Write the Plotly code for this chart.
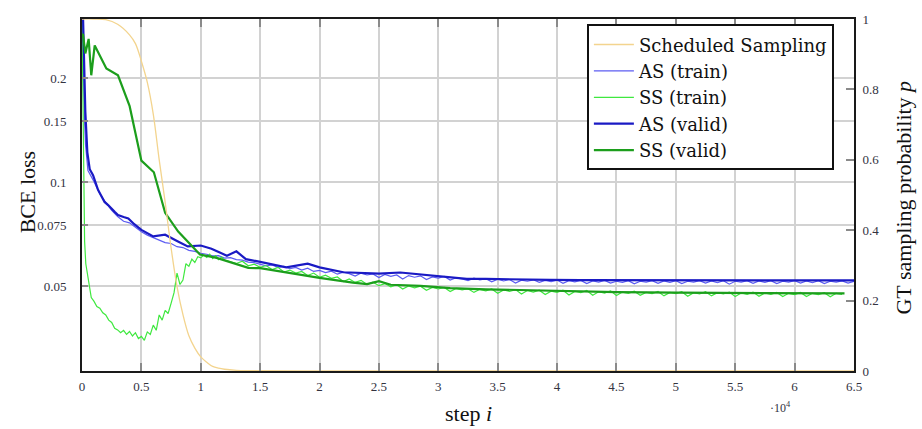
import plotly.graph_objects as go

# ---------------- data ----------------
ss_steps = [0, 1000, 2000, 3000, 4000, 4500, 5000, 5500, 6000, 6500, 7000, 7500, 8000,
            8500, 9000, 9500, 10000, 10500, 11000, 11500, 12000, 13000, 14000, 20000,
            30000, 40000, 50000, 60000, 65000]
ss_prob = [1.0, 1.0, 0.998, 0.985, 0.955, 0.93, 0.88, 0.82, 0.73, 0.60, 0.48, 0.35, 0.24,
           0.16, 0.10, 0.065, 0.04, 0.025, 0.013, 0.008, 0.005, 0.002, 0.001, 0.0,
           0.0, 0.0, 0.0, 0.0, 0.0]

as_valid_steps = [0, 150, 280, 450, 650, 930, 1350, 1900, 2200, 2750, 3030, 3500, 3900,
                  4400, 5000, 6000, 7000, 8000, 8900, 10000, 10900, 11600, 12200, 13000,
                  13800, 14700, 16000, 17200, 19000, 20000, 22000, 23500, 25000, 26800,
                  28700, 30500, 32400, 34000, 36000, 39400, 42000, 45000, 48000, 52000,
                  56000, 60000, 65000]
as_valid_loss = [0.40, 0.25, 0.16, 0.122, 0.109, 0.1047, 0.0950, 0.0876, 0.0858, 0.0820,
                 0.0803, 0.0792, 0.0785, 0.0755, 0.0727, 0.0696, 0.0704, 0.0675, 0.0651,
                 0.0655, 0.0641, 0.0625, 0.0612, 0.0630, 0.0598, 0.0590, 0.0577, 0.0566,
                 0.0580, 0.0566, 0.0548, 0.0546, 0.0543, 0.0547, 0.0540, 0.0533, 0.0524,
                 0.0524, 0.0522, 0.0521, 0.0520, 0.0520, 0.0519, 0.0519, 0.0519, 0.0519,
                 0.0519]

ss_valid_steps = [0, 80, 280, 560, 780, 1070, 2050, 3030, 4010, 5000, 6050, 7000, 8100,
                  9000, 9930, 11340, 12500, 14000, 15000, 17000, 20000, 22800, 24000,
                  25000, 26000, 28500, 31000, 34000, 39400, 45000, 50000, 55000, 60000,
                  64200]
ss_valid_loss = [0.262, 0.269, 0.236, 0.260, 0.204, 0.249, 0.2136, 0.204, 0.166, 0.1154,
                 0.1068, 0.0815, 0.0719, 0.0665, 0.0617, 0.0603, 0.0585, 0.0564, 0.0563,
                 0.0548, 0.0528, 0.0511, 0.0506, 0.0516, 0.0504, 0.0500, 0.0493, 0.0489,
                 0.0484, 0.0480, 0.0478, 0.0477, 0.0476, 0.0476]

as_train_steps = [0, 100, 200, 300, 400] + list(range(500, 65001, 500))
as_train_loss = [
    0.33, 0.22, 0.155, 0.128, 0.115,
    0.108, 0.1005, 0.0925, 0.0872, 0.0828, 0.0795, 0.0770, 0.0762, 0.0738, 0.0718,
    0.0702, 0.0690, 0.0680, 0.0668, 0.0664, 0.0650, 0.0646, 0.0634, 0.0630, 0.0622,
    0.0618, 0.0611, 0.0612, 0.0602, 0.0604, 0.0596, 0.0594, 0.0586, 0.0584,
    0.0579, 0.0572, 0.0575, 0.0566, 0.0570, 0.0561, 0.0566, 0.0556, 0.0563, 0.0551,
    0.0555, 0.0547, 0.0552, 0.0541, 0.0548, 0.0543, 0.0534, 0.0545, 0.0538, 0.0542,
    0.0529, 0.0540, 0.0533, 0.0538, 0.0524, 0.0536, 0.0530, 0.0535, 0.0522, 0.0531,
    0.0527, 0.0533, 0.0520, 0.0528, 0.0524, 0.0518, 0.0527, 0.0521, 0.0525, 0.0514,
    0.0523, 0.0517, 0.0522, 0.0510, 0.0520, 0.0516, 0.0521, 0.0512, 0.0519, 0.0515,
    0.0520, 0.0509, 0.0518, 0.0514, 0.0519, 0.0508, 0.0517, 0.0513, 0.0519, 0.0510,
    0.0516, 0.0512, 0.0518, 0.0507, 0.0516, 0.0513, 0.0518, 0.0509, 0.0517, 0.0512,
    0.0518, 0.0508, 0.0516, 0.0513, 0.0518, 0.0510, 0.0517, 0.0511, 0.0518, 0.0506,
    0.0516, 0.0513, 0.0518, 0.0509, 0.0517, 0.0512, 0.0518, 0.0508, 0.0516, 0.0513,
    0.0518, 0.0510, 0.0517, 0.0511, 0.0518, 0.0508, 0.0516, 0.0513, 0.0517, 0.0510,
    0.0516]

ss_train_steps = ([0, 60, 120, 220, 320, 450, 600, 780]
                  + list(range(1000, 12001, 250)) + list(range(12500, 64001, 500)))
ss_train_loss = [
    0.30, 0.20, 0.12, 0.0673, 0.058, 0.0541, 0.0500, 0.0463,
    0.0452, 0.0436, 0.0431, 0.0418, 0.0412, 0.0398, 0.0392, 0.0377, 0.0373, 0.0366,
    0.0372, 0.0362, 0.0369, 0.0358, 0.0366, 0.0352, 0.0357, 0.0348, 0.0368, 0.0362,
    0.0385, 0.0372, 0.0412, 0.0398, 0.0425, 0.0416, 0.0445, 0.0478, 0.0545, 0.0505,
    0.0520, 0.0580, 0.0570, 0.0598, 0.0585, 0.0608, 0.0603, 0.0615, 0.0605, 0.0618,
    0.0600, 0.0612, 0.0596, 0.0606, 0.0594,
    0.0588, 0.0581, 0.0590, 0.0572, 0.0578, 0.0566, 0.0573, 0.0558, 0.0566, 0.0549,
    0.0556, 0.0545, 0.0551, 0.0536, 0.0545, 0.0530, 0.0537, 0.0526, 0.0531, 0.0515,
    0.0524, 0.0512, 0.0519, 0.0505, 0.0513, 0.0501, 0.0508, 0.0497, 0.0504, 0.0490,
    0.0500, 0.0494, 0.0499, 0.0486, 0.0495, 0.0490, 0.0495, 0.0482, 0.0492, 0.0487,
    0.0491, 0.0479, 0.0489, 0.0484, 0.0490, 0.0476, 0.0487, 0.0482, 0.0488, 0.0474,
    0.0485, 0.0480, 0.0486, 0.0472, 0.0483, 0.0479, 0.0486, 0.0471, 0.0482, 0.0478,
    0.0485, 0.0470, 0.0481, 0.0477, 0.0484, 0.0469, 0.0480, 0.0476, 0.0483, 0.0470,
    0.0479, 0.0475, 0.0482, 0.0468, 0.0479, 0.0475, 0.0481, 0.0467, 0.0478, 0.0474,
    0.0481, 0.0468, 0.0478, 0.0474, 0.0480, 0.0466, 0.0477, 0.0473, 0.0480, 0.0467,
    0.0477, 0.0473, 0.0479, 0.0466, 0.0476, 0.0472, 0.0479, 0.0466, 0.0476, 0.0472,
    0.0478, 0.0465, 0.0476, 0.0473]

x_tick_vals = list(range(0, 65001, 5000))
x_tick_text = ["0", "0.5", "1", "1.5", "2", "2.5", "3", "3.5", "4", "4.5", "5", "5.5", "6", "6.5"]
y_tick_vals = [0.05, 0.075, 0.1, 0.15, 0.2]
y_tick_text = ["0.05", "0.075", "0.1", "0.15", "0.2"]
y2_tick_vals = [0, 0.2, 0.4, 0.6, 0.8, 1]
y2_tick_text = ["0", "0.2", "0.4", "0.6", "0.8", "1"]

# ---------------- figure ----------------
SERIF = "Liberation Serif"
TICKFONT = dict(family=SERIF, size=13, color="#33333f")

fig = go.Figure()
fig.add_trace(go.Scatter(x=ss_steps, y=ss_prob, name="Scheduled Sampling", mode="lines",
                         line=dict(color="#f3d48e", width=1.3, shape="spline"), yaxis="y2"))
fig.add_trace(go.Scatter(x=as_train_steps, y=as_train_loss, name="AS (train)", mode="lines",
                         line=dict(color="#5c5cf2", width=1.2)))
fig.add_trace(go.Scatter(x=ss_train_steps, y=ss_train_loss, name="SS (train)", mode="lines",
                         line=dict(color="#3fe83f", width=1.2)))
fig.add_trace(go.Scatter(x=as_valid_steps, y=as_valid_loss, name="AS (valid)", mode="lines",
                         line=dict(color="#1a1ac4", width=2.2)))
fig.add_trace(go.Scatter(x=ss_valid_steps, y=ss_valid_loss, name="SS (valid)", mode="lines",
                         line=dict(color="#1c9e1c", width=2.2)))

fig.update_layout(
    width=922, height=429,
    margin=dict(l=82, r=68, t=15, b=58),
    paper_bgcolor="white", plot_bgcolor="white",
    showlegend=True,
    legend=dict(x=0.654, y=0.985, xanchor="left", yanchor="top",
                bgcolor="white", bordercolor="#111", borderwidth=2,
                font=dict(family="DejaVu Serif", size=18, color="#111"),
                tracegroupgap=0, itemwidth=40),
    xaxis=dict(range=[0, 65000], tickvals=x_tick_vals, ticktext=x_tick_text,
               showgrid=True, gridcolor="#d2d2d2", gridwidth=1.5, zeroline=False,
               showline=True, linecolor="#1a1a1a", linewidth=2, mirror="ticks",
               ticks="inside", ticklen=8, tickcolor="#8a8a8a", tickwidth=1.5,
               tickfont=TICKFONT, ticklabelstandoff=2),
    yaxis=dict(type="log", range=[-1.5475, -0.5272], tickvals=y_tick_vals, ticktext=y_tick_text,
               showgrid=True, gridcolor="#d2d2d2", gridwidth=1.5, zeroline=False,
               showline=True, linecolor="#1a1a1a", linewidth=2, mirror=True,
               ticks="inside", ticklen=6, tickcolor="#8a8a8a", tickwidth=1.5,
               tickfont=TICKFONT, ticklabelstandoff=11),
    yaxis2=dict(overlaying="y", side="right", range=[0, 1], tickvals=y2_tick_vals,
                ticktext=y2_tick_text, showgrid=False, zeroline=False,
                showline=True, linecolor="#1a1a1a", linewidth=2,
                ticks="inside", ticklen=8, tickcolor="#8a8a8a", tickwidth=1.5,
                tickfont=TICKFONT, ticklabelstandoff=4),
    annotations=[
        dict(text="BCE loss", x=-0.071, y=0.508, xref="paper", yref="paper",
             textangle=-90, showarrow=False, xanchor="center", yanchor="middle",
             font=dict(family=SERIF, size=22, color="#111")),
        dict(text="GT sampling probability <i>p</i>", x=1.064, y=0.494, xref="paper",
             yref="paper", textangle=-90, showarrow=False, xanchor="center",
             yanchor="middle", font=dict(family=SERIF, size=22, color="#111")),
        dict(text="step <i>i</i>", x=0.5, y=-0.121, xref="paper", yref="paper",
             showarrow=False, xanchor="center", yanchor="middle",
             font=dict(family=SERIF, size=22, color="#111")),
        dict(text="·10<sup>4</sup>", x=0.905, y=-0.104, xref="paper", yref="paper",
             showarrow=False, xanchor="center", yanchor="middle",
             font=dict(family=SERIF, size=12, color="#33333f")),
    ],
)

fig.write_html("out.html", config={"displayModeBar": False},
               post_script="document.body.style.margin='0';document.body.style.overflow='hidden';")
